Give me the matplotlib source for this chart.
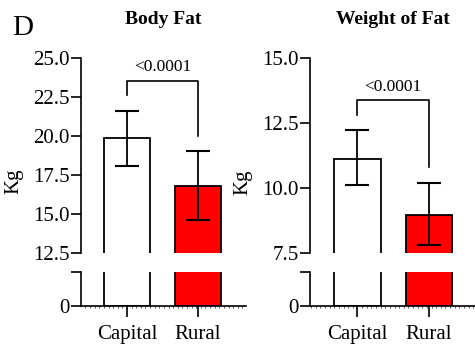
import matplotlib.pyplot as plt
from matplotlib.ticker import MultipleLocator, FixedLocator

plt.rcParams['font.family'] = ['Liberation Serif', 'DejaVu Serif']

groups = ['Capital', 'Rural']
colors = ['white', '#ff0000']

# Body fat (kg): mean, upper/lower error limits
fat_mean = [19.85, 16.8]
fat_hi = [21.62, 19.05]
fat_lo = [18.07, 14.6]

# Weight of fat (kg)
wof_mean = [11.13, 8.98]
wof_hi = [12.22, 10.19]
wof_lo = [10.13, 7.82]

p_text = ['<0.0001', '<0.0001']


def draw_panel(fig, left, title, mean, hi, lo, upper_lim, lower_top, yticks,
               bracket, ptxt, xlim):
    w = 0.3474
    ax_up = fig.add_axes([left, 0.2645, w, 0.5669])
    ax_lo = fig.add_axes([left, 0.1105, w, 0.0988])
    x = range(len(groups))
    err = [[m - l for m, l in zip(mean, lo)], [h - m for m, h in zip(mean, hi)]]
    for ax in (ax_up, ax_lo):
        ax.bar(x, mean, width=0.648, color=colors, edgecolor='black',
               linewidth=1.3, zorder=2)
        ax.errorbar(x, mean, yerr=err, fmt='none', ecolor='black',
                    elinewidth=1.3, capsize=8.3, capthick=1.5, zorder=3)
        ax.set_xlim(*xlim)
        ax.spines['right'].set_visible(False)
        ax.spines['top'].set_visible(False)
        ax.spines['left'].set_linewidth(1.2)
        ax.tick_params(axis='y', length=7, width=1.2, labelsize=15, pad=1)
        ax.set_facecolor('none')

    ax_up.set_ylim(*upper_lim)
    ax_up.spines['bottom'].set_visible(False)
    ax_up.set_xticks([])
    ax_up.set_yticks(yticks)
    ax_up.set_yticklabels([f'{t:.1f}' for t in yticks])

    ax_lo.set_ylim(0, lower_top)
    ax_lo.yaxis.set_major_locator(FixedLocator([0, lower_top]))
    ax_lo.set_yticklabels(['0', ''])
    ax_lo.spines['bottom'].set_linewidth(1.2)
    ax_lo.set_xticks(list(x))
    ax_lo.set_xticklabels(groups, fontsize=15)
    ax_lo.xaxis.set_minor_locator(MultipleLocator(0.065))
    ax_lo.tick_params(axis='x', which='major', length=8, width=1.2, pad=6)
    ax_lo.tick_params(axis='x', which='minor', length=1.2, width=0.7,
                      color='#555555')

    # significance bracket
    top, l_end, r_end = bracket
    ax_up.plot([0, 0, 1, 1], [l_end, top, top, r_end], color='black',
               linewidth=1.2, clip_on=False)
    ax_up.text(0.5, top + (upper_lim[1] - upper_lim[0]) * 0.03, ptxt,
               ha='center', va='bottom', fontsize=12.5)

    cx = left + w / 2
    fig.text(cx, 0.942, title, ha='center', va='center', fontsize=14,
             fontweight='bold')
    return ax_up, ax_lo


fig = plt.figure(figsize=(4.75, 3.44), dpi=100)

draw_panel(fig, 0.1705, 'Body Fat', fat_mean, fat_hi, fat_lo, (12.5, 25.0),
           2.2, [12.5, 15.0, 17.5, 20.0, 22.5, 25.0], (23.55, 22.6, 20.0),
           p_text[0], (-0.648, 1.676))
draw_panel(fig, 0.6526, 'Weight of Fat', wof_mean, wof_hi, wof_lo, (7.5, 15.0),
           1.3, [7.5, 10.0, 12.5, 15.0], (13.37, 12.8, 10.8),
           p_text[1], (-0.667, 1.65))

fig.text(0.030, 0.474, 'Kg', rotation=90, ha='center', va='center', fontsize=15)
fig.text(0.512, 0.47, 'Kg', rotation=90, ha='center', va='center', fontsize=15)
fig.text(0.047, 0.918, 'D', ha='center', va='center', fontsize=21)

fig.savefig('out.png', dpi=100)
